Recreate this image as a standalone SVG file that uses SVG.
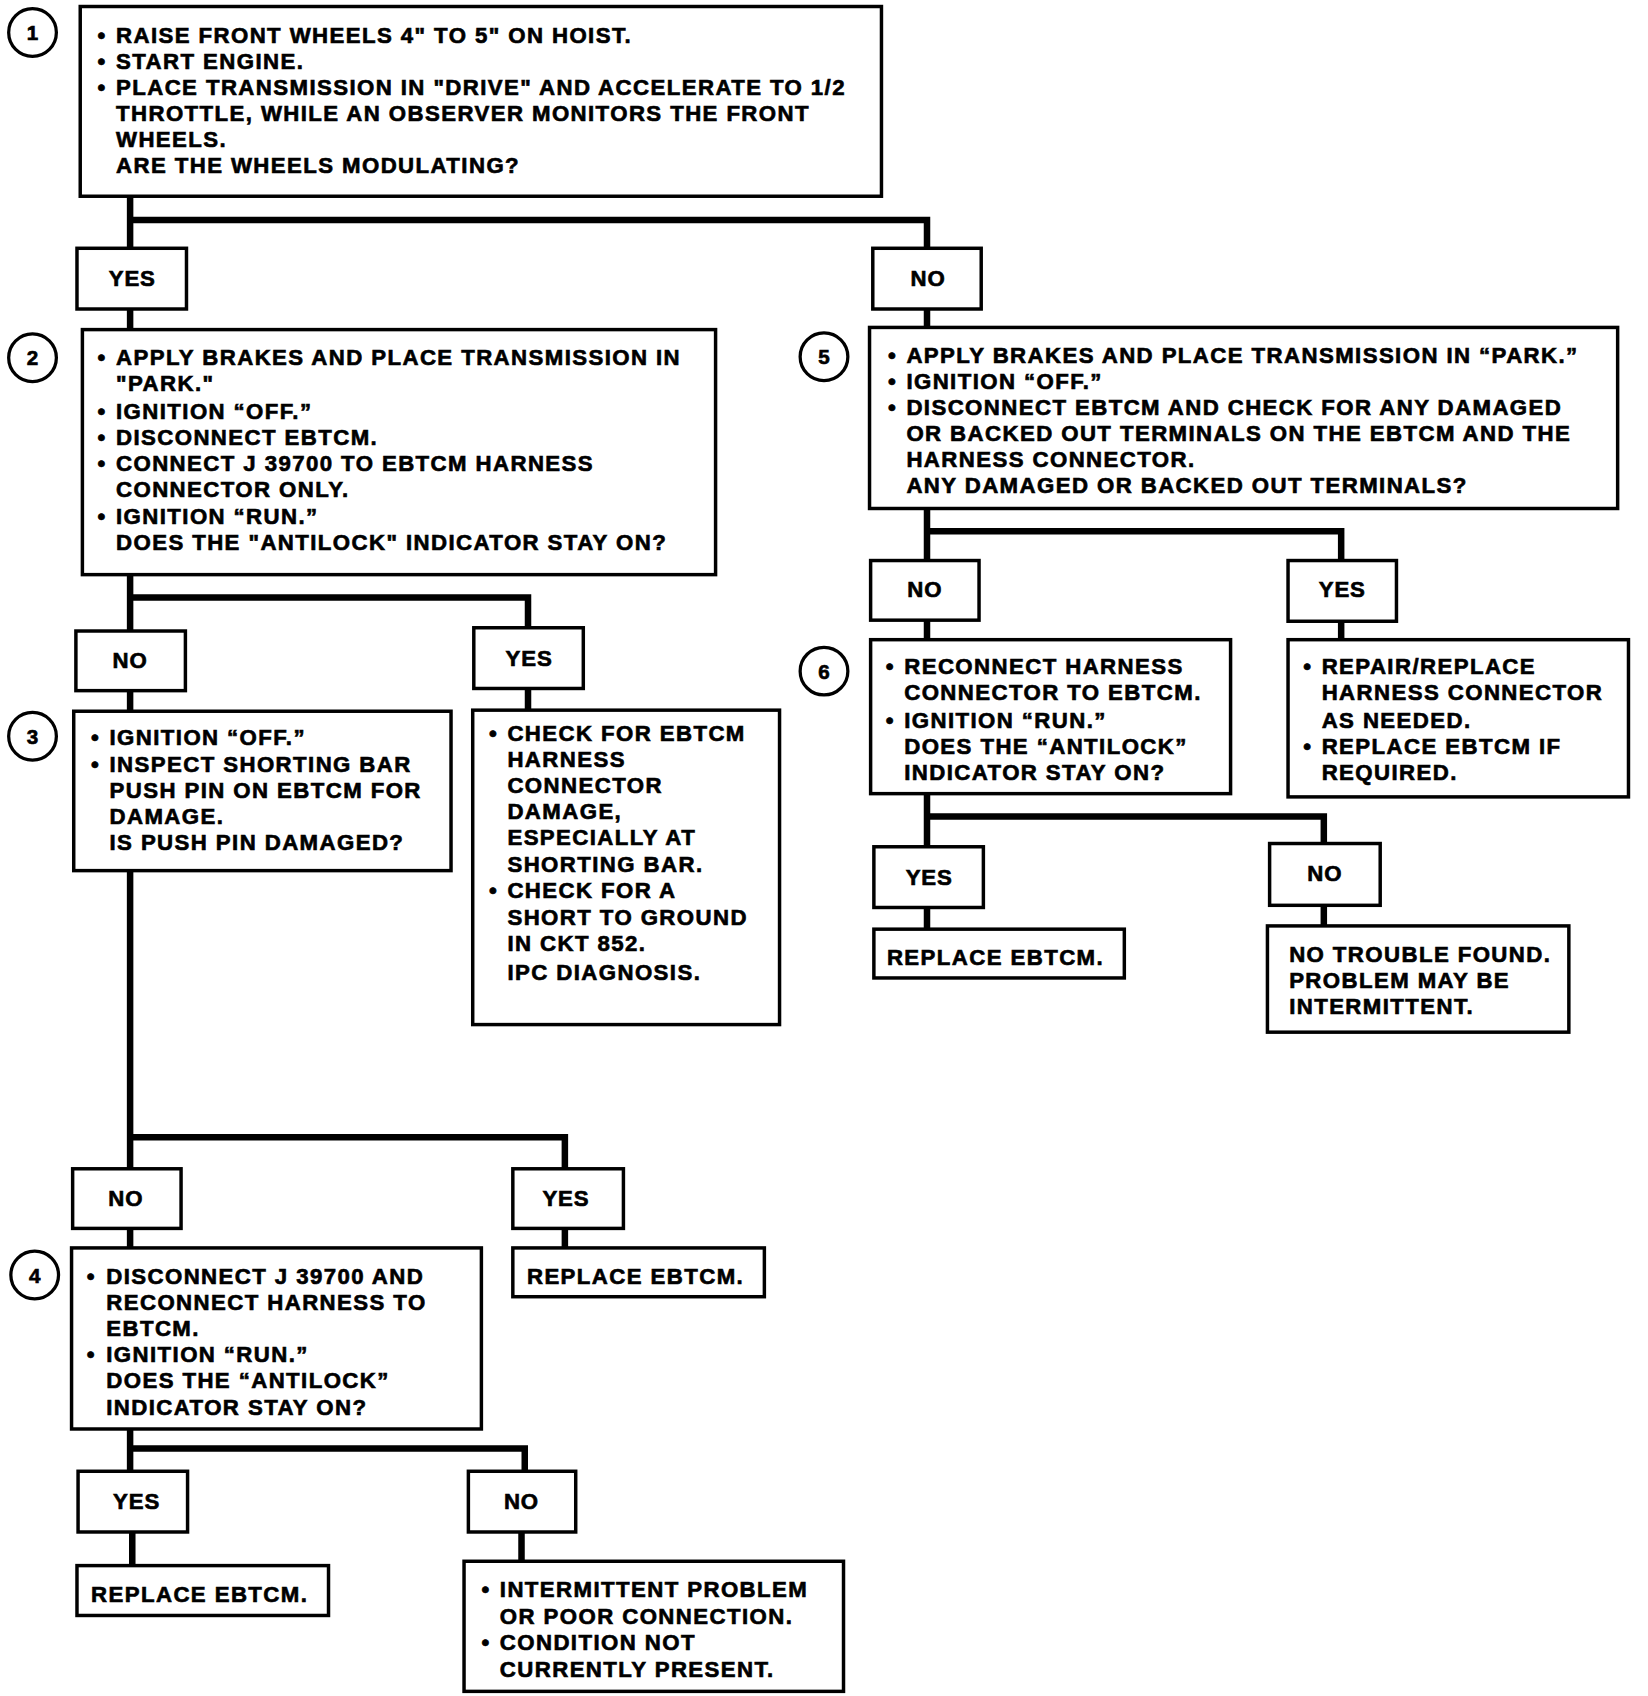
<svg xmlns="http://www.w3.org/2000/svg" width="1648" height="1696" viewBox="0 0 1648 1696">
<style>
.bx{fill:#fff;stroke:#000;stroke-width:3.2}
.cn{fill:none;stroke:#000;stroke-width:6;stroke-linejoin:miter;stroke-linecap:butt}
.ci{fill:#fff;stroke:#000;stroke-width:3}
text{font-family:"Liberation Sans",Arial,sans-serif;font-weight:bold;font-size:20.5px;letter-spacing:1.3px;fill:#000;stroke:#000;stroke-width:0.6px}
.n{font-size:19px;letter-spacing:0;text-anchor:middle}
.c{text-anchor:middle;letter-spacing:0.8px}
</style>
<rect width="1648" height="1696" fill="#fff"/>
<g transform="scale(1.08421)">
<g id="connectors">
<path class="cn" d="M120 181V229M120 203H855V229"/>
<path class="cn" d="M120 285V304"/>
<path class="cn" d="M855 285V302"/>
<path class="cn" d="M120 530V582M120 551H487V579"/>
<path class="cn" d="M120 637V656"/>
<path class="cn" d="M487 635V655"/>
<path class="cn" d="M855 469V517M855 490H1237V517"/>
<path class="cn" d="M855 572V590"/>
<path class="cn" d="M1237 573V590"/>
<path class="cn" d="M855 732V781M855 753H1221V778"/>
<path class="cn" d="M855 837V857"/>
<path class="cn" d="M1221 835V854"/>
<path class="cn" d="M120 803V1078M120 1049H521V1078"/>
<path class="cn" d="M120 1133V1151"/>
<path class="cn" d="M521 1133V1151"/>
<path class="cn" d="M120 1318V1357M120 1336H484V1357"/>
<path class="cn" d="M122 1413V1444"/>
<path class="cn" d="M481 1413V1440"/>
</g>
<g id="step1">
<circle class="ci" cx="30" cy="30" r="22"/><text class="n" x="30" y="37">1</text>
<rect class="bx" x="74" y="6" width="739" height="175"/>
<text x="90" y="40">•</text><text x="107" y="40">RAISE FRONT WHEELS 4" TO 5" ON HOIST.</text>
<text x="90" y="64">•</text><text x="107" y="64">START ENGINE.</text>
<text x="90" y="88">•</text><text x="107" y="88">PLACE TRANSMISSION IN "DRIVE" AND ACCELERATE TO 1/2</text>
<text x="107" y="112">THROTTLE, WHILE AN OBSERVER MONITORS THE FRONT</text>
<text x="107" y="136">WHEELS.</text>
<text x="107" y="160">ARE THE WHEELS MODULATING?</text>
</g>
<g id="yes1"><rect class="bx" x="71" y="229" width="101" height="56"/><text class="c" x="122" y="264">YES</text></g>
<g id="no1"><rect class="bx" x="805" y="229" width="100" height="56"/><text class="c" x="856" y="264">NO</text></g>
<g id="step2">
<circle class="ci" cx="30" cy="330" r="22"/><text class="n" x="30" y="337">2</text>
<rect class="bx" x="76" y="304" width="584" height="226"/>
<text x="90" y="337">•</text><text x="107" y="337">APPLY BRAKES AND PLACE TRANSMISSION IN</text>
<text x="107" y="361">"PARK."</text>
<text x="90" y="386">•</text><text x="107" y="386">IGNITION “OFF.”</text>
<text x="90" y="410">•</text><text x="107" y="410">DISCONNECT EBTCM.</text>
<text x="90" y="434">•</text><text x="107" y="434">CONNECT J 39700 TO EBTCM HARNESS</text>
<text x="107" y="458">CONNECTOR ONLY.</text>
<text x="90" y="483">•</text><text x="107" y="483">IGNITION “RUN.”</text>
<text x="107" y="507">DOES THE "ANTILOCK" INDICATOR STAY ON?</text>
</g>
<g id="step5">
<circle class="ci" cx="760" cy="329" r="22"/><text class="n" x="760" y="336">5</text>
<rect class="bx" x="802" y="302" width="690" height="167"/>
<text x="819" y="335">•</text><text x="836" y="335">APPLY BRAKES AND PLACE TRANSMISSION IN “PARK.”</text>
<text x="819" y="359">•</text><text x="836" y="359">IGNITION “OFF.”</text>
<text x="819" y="383">•</text><text x="836" y="383">DISCONNECT EBTCM AND CHECK FOR ANY DAMAGED</text>
<text x="836" y="407">OR BACKED OUT TERMINALS ON THE EBTCM AND THE</text>
<text x="836" y="431">HARNESS CONNECTOR.</text>
<text x="836" y="455">ANY DAMAGED OR BACKED OUT TERMINALS?</text>
</g>
<g id="no2"><rect class="bx" x="70" y="582" width="101" height="55"/><text class="c" x="120" y="616">NO</text></g>
<g id="yes2"><rect class="bx" x="437" y="579" width="101" height="56"/><text class="c" x="488" y="614">YES</text></g>
<g id="step3">
<circle class="ci" cx="30" cy="679" r="22"/><text class="n" x="30" y="686">3</text>
<rect class="bx" x="68" y="656" width="348" height="147"/>
<text x="84" y="687">•</text><text x="101" y="687">IGNITION “OFF.”</text>
<text x="84" y="712">•</text><text x="101" y="712">INSPECT SHORTING BAR</text>
<text x="101" y="736">PUSH PIN ON EBTCM FOR</text>
<text x="101" y="760">DAMAGE.</text>
<text x="101" y="784">IS PUSH PIN DAMAGED?</text>
</g>
<g id="check">
<rect class="bx" x="436" y="655" width="283" height="290"/>
<text x="451" y="683">•</text><text x="468" y="683">CHECK FOR EBTCM</text>
<text x="468" y="707">HARNESS</text>
<text x="468" y="731">CONNECTOR</text>
<text x="468" y="755">DAMAGE,</text>
<text x="468" y="779">ESPECIALLY AT</text>
<text x="468" y="804">SHORTING BAR.</text>
<text x="451" y="828">•</text><text x="468" y="828">CHECK FOR A</text>
<text x="468" y="853">SHORT TO GROUND</text>
<text x="468" y="877">IN CKT 852.</text>
<text x="468" y="904">IPC DIAGNOSIS.</text>
</g>
<g id="no5"><rect class="bx" x="803" y="517" width="100" height="55"/><text class="c" x="853" y="551">NO</text></g>
<g id="yes5"><rect class="bx" x="1188" y="517" width="100" height="56"/><text class="c" x="1238" y="551">YES</text></g>
<g id="step6">
<circle class="ci" cx="760" cy="619" r="22"/><text class="n" x="760" y="626">6</text>
<rect class="bx" x="803" y="590" width="332" height="142"/>
<text x="817" y="622">•</text><text x="834" y="622">RECONNECT HARNESS</text>
<text x="834" y="646">CONNECTOR TO EBTCM.</text>
<text x="817" y="671">•</text><text x="834" y="671">IGNITION “RUN.”</text>
<text x="834" y="695">DOES THE “ANTILOCK”</text>
<text x="834" y="719">INDICATOR STAY ON?</text>
</g>
<g id="repair">
<rect class="bx" x="1188" y="590" width="314" height="145"/>
<text x="1202" y="622">•</text><text x="1219" y="622">REPAIR/REPLACE</text>
<text x="1219" y="646">HARNESS CONNECTOR</text>
<text x="1219" y="671">AS NEEDED.</text>
<text x="1202" y="695">•</text><text x="1219" y="695">REPLACE EBTCM IF</text>
<text x="1219" y="719">REQUIRED.</text>
</g>
<g id="yes6"><rect class="bx" x="806" y="781" width="101" height="56"/><text class="c" x="857" y="816">YES</text></g>
<g id="no6"><rect class="bx" x="1171" y="778" width="102" height="57"/><text class="c" x="1222" y="813">NO</text></g>
<g id="replace6"><rect class="bx" x="806" y="857" width="231" height="45"/><text x="818" y="890">REPLACE EBTCM.</text></g>
<g id="notrouble">
<rect class="bx" x="1169" y="854" width="278" height="98"/>
<text x="1189" y="887">NO TROUBLE FOUND.</text>
<text x="1189" y="911">PROBLEM MAY BE</text>
<text x="1189" y="935">INTERMITTENT.</text>
</g>
<g id="no3"><rect class="bx" x="67" y="1078" width="100" height="55"/><text class="c" x="116" y="1112">NO</text></g>
<g id="yes3"><rect class="bx" x="473" y="1078" width="102" height="55"/><text class="c" x="522" y="1112">YES</text></g>
<g id="replace3"><rect class="bx" x="473" y="1151" width="232" height="45"/><text x="486" y="1184">REPLACE EBTCM.</text></g>
<g id="step4">
<circle class="ci" cx="32" cy="1176" r="22"/><text class="n" x="32" y="1183">4</text>
<rect class="bx" x="66" y="1151" width="378" height="167"/>
<text x="80" y="1184">•</text><text x="98" y="1184">DISCONNECT J 39700 AND</text>
<text x="98" y="1208">RECONNECT HARNESS TO</text>
<text x="98" y="1232">EBTCM.</text>
<text x="80" y="1256">•</text><text x="98" y="1256">IGNITION “RUN.”</text>
<text x="98" y="1280">DOES THE “ANTILOCK”</text>
<text x="98" y="1305">INDICATOR STAY ON?</text>
</g>
<g id="yes4"><rect class="bx" x="72" y="1357" width="101" height="56"/><text class="c" x="126" y="1392">YES</text></g>
<g id="no4"><rect class="bx" x="432" y="1357" width="99" height="56"/><text class="c" x="481" y="1392">NO</text></g>
<g id="replace4"><rect class="bx" x="71" y="1444" width="232" height="46"/><text x="84" y="1478">REPLACE EBTCM.</text></g>
<g id="intermittent">
<rect class="bx" x="428" y="1440" width="350" height="120"/>
<text x="444" y="1473">•</text><text x="461" y="1473">INTERMITTENT PROBLEM</text>
<text x="461" y="1498">OR POOR CONNECTION.</text>
<text x="444" y="1522">•</text><text x="461" y="1522">CONDITION NOT</text>
<text x="461" y="1547">CURRENTLY PRESENT.</text>
</g>
</g>
</svg>
